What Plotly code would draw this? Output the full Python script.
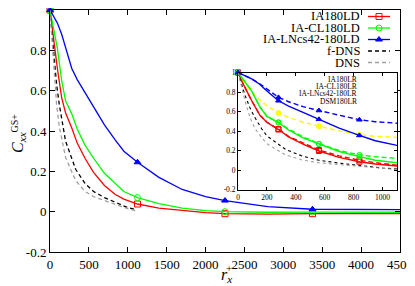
import plotly.graph_objects as go

# ---------------- data ----------------
X_LD = [0, 40, 95, 150, 200, 280, 350, 450, 560, 700, 840, 950, 1125, 1400, 1700, 2000, 2250, 2800, 3375, 4000, 4500]
IA180LD = [1, 0.87, 0.71, 0.565, 0.49, 0.415, 0.34, 0.265, 0.195, 0.13, 0.085, 0.062, 0.038, 0.018, 0.005, -0.005, -0.01, -0.012, -0.01, -0.01, -0.01]
IACL180LD = [1, 0.92, 0.81, 0.65, 0.55, 0.485, 0.41, 0.33, 0.265, 0.19, 0.137, 0.1, 0.07, 0.04, 0.018, 0.005, 0.0, -0.003, -0.002, -0.003, -0.003]
IALN180LD = [1, 0.975, 0.935, 0.88, 0.81, 0.71, 0.655, 0.59, 0.52, 0.43, 0.355, 0.30, 0.245, 0.17, 0.11, 0.075, 0.055, 0.025, 0.012, 0.01, 0.01]

X_DNS = [0, 25, 50, 85, 120, 165, 200, 265, 330, 450, 560, 700, 840, 1000, 1100]
FDNS = [1, 0.88, 0.76, 0.63, 0.53, 0.42, 0.35, 0.28, 0.21, 0.14, 0.10, 0.07, 0.045, 0.02, 0.01]
DNS = [1, 0.85, 0.70, 0.53, 0.42, 0.33, 0.27, 0.21, 0.155, 0.10, 0.075, 0.055, 0.035, 0.015, 0.005]

X_LR = [0, 40, 95, 150, 200, 280, 350, 450, 560, 700, 840, 950, 1100]
IA180LR = [1, 0.87, 0.71, 0.565, 0.49, 0.42, 0.345, 0.275, 0.205, 0.145, 0.10, 0.075, 0.05]
IACL180LR = [1, 0.92, 0.81, 0.65, 0.55, 0.49, 0.42, 0.34, 0.27, 0.20, 0.155, 0.135, 0.12]
IALN180LR = [1, 0.975, 0.935, 0.885, 0.83, 0.745, 0.70, 0.65, 0.61, 0.56, 0.515, 0.495, 0.48]
DSM180LR = [1, 0.90, 0.80, 0.72, 0.66, 0.585, 0.54, 0.49, 0.45, 0.40, 0.36, 0.345, 0.335]

MAIN_MARKS = [0, 1125, 2250, 3375]
INSET_MARKS = [0, 280, 560, 840]

MAIN_XTICKS = [0, 500, 1000, 1500, 2000, 2500, 3000, 3500, 4000, 4500]
YTICKS = [-0.2, 0, 0.2, 0.4, 0.6, 0.8, 1]
YTICK_TEXT = ["-0.2", "0", "0.2", "0.4", "0.6", "0.8", "1"]
INSET_XTICKS = [0, 200, 400, 600, 800, 1000]

MAIN_LEGEND = ["IA180LD", "IA-CL180LD", "IA-LNcs42-180LD", "f-DNS", "DNS"]
INSET_LEGEND = ["IA180LR", "IA-CL180LR", "IA-LNcs42-180LR", "DSM180LR"]

# ---------------- helpers ----------------
# The page body adds an 8px offset; sizes below compensate so the plot
# area lands at screen x 50..400, y 10..252.
OFF = 8
W, H = 415 - OFF, 286 - OFF
ML, MT = 50 - OFF, 10 - OFF
PW, PH = 350, 242
MR, MB = W - ML - PW, H - MT - PH


def PX(x):
    return (x - OFF - ML) / PW


def PY(y):
    return (MT + PH - (y - OFF)) / PH


def pick(xs, ys, marks):
    return [ys[xs.index(m)] for m in marks]


FONT = "Liberation Serif"
RED, GREEN, BLUE, YEL = "#ff0000", "#00ff00", "#0000ff", "#ffff00"
GREY = "#a0a0a0"

fig = go.Figure()


def add_curve(xs, ys, color, dash, width, sym, msize, marks, xa, ya):
    fig.add_trace(go.Scatter(x=xs, y=ys, mode="lines", xaxis=xa, yaxis=ya,
                             line=dict(color=color, dash=dash, width=width),
                             showlegend=False, hoverinfo="skip"))
    if sym is not None:
        fig.add_trace(go.Scatter(x=marks, y=pick(xs, ys, marks), mode="markers",
                                 xaxis=xa, yaxis=ya,
                                 marker=dict(symbol=sym, size=msize, color=color,
                                             line=dict(color=color, width=1)),
                                 showlegend=False, hoverinfo="skip", cliponaxis=False))


# main plot
add_curve(X_LD, IA180LD, RED, "solid", 1.3, "square-open", 6, MAIN_MARKS, "x", "y")
add_curve(X_LD, IACL180LD, GREEN, "solid", 1.3, "circle-open", 6, MAIN_MARKS, "x", "y")
add_curve(X_LD, IALN180LD, BLUE, "solid", 1.3, "triangle-up", 6, MAIN_MARKS, "x", "y")
add_curve(X_DNS, FDNS, "black", "4px,3px", 1.3, None, 0, [], "x", "y")
add_curve(X_DNS, DNS, GREY, "4px,3px", 1.3, None, 0, [], "x", "y")

# inset
add_curve(X_LR, IA180LR, RED, "5px,3px", 1.4, "square-open", 5, INSET_MARKS, "x2", "y2")
add_curve(X_LR, IACL180LR, GREEN, "5px,3px", 1.4, "circle-open", 5, INSET_MARKS, "x2", "y2")
add_curve(X_LR, IALN180LR, BLUE, "5px,3px", 1.4, "triangle-up", 5, INSET_MARKS, "x2", "y2")
add_curve(X_LR, DSM180LR, YEL, "5px,3px", 1.4, "circle", 5, INSET_MARKS, "x2", "y2")
add_curve(X_LD, IA180LD, RED, "solid", 1.4, "square-open", 5, INSET_MARKS, "x2", "y2")
add_curve(X_LD, IACL180LD, GREEN, "solid", 1.4, "circle-open", 5, INSET_MARKS, "x2", "y2")
add_curve(X_LD, IALN180LD, BLUE, "solid", 1.4, "triangle-up", 5, INSET_MARKS, "x2", "y2")
add_curve(X_DNS, FDNS, "black", "3px,3px", 1.1, None, 0, [], "x2", "y2")
add_curve(X_DNS, DNS, GREY, "3px,3px", 1.1, None, 0, [], "x2", "y2")

# legends (drawn on an overlay axis in paper units)
annotations = []
main_styles = [(RED, "solid", "square-open"), (GREEN, "solid", "circle-open"),
               (BLUE, "solid", "triangle-up"), ("black", "4px,3px", None), (GREY, "4px,3px", None)]
main_rows = [16.5, 28, 39.5, 51, 62.5]
for name, (c, d, s), r in zip(MAIN_LEGEND, main_styles, main_rows):
    fig.add_trace(go.Scatter(x=[PX(368), PX(390)], y=[PY(r), PY(r)], mode="lines",
                             xaxis="x3", yaxis="y3", line=dict(color=c, dash=d, width=1.3),
                             showlegend=False, hoverinfo="skip"))
    if s:
        fig.add_trace(go.Scatter(x=[PX(379)], y=[PY(r)], mode="markers", xaxis="x3", yaxis="y3",
                                 marker=dict(symbol=s, size=6, color=c, line=dict(color=c, width=1)),
                                 showlegend=False, hoverinfo="skip"))
    annotations.append(dict(text=name, xref="paper", yref="paper", x=PX(362), y=PY(r),
                            xanchor="right", yanchor="middle", showarrow=False,
                            font=dict(family=FONT, size=12.5, color="black")))

inset_styles = [(RED, "square-open"), (GREEN, "circle-open"), (BLUE, "triangle-up"), (YEL, "circle")]
inset_rows = [79, 86.5, 94, 101.5]
for name, (c, s), r in zip(INSET_LEGEND, inset_styles, inset_rows):
    fig.add_trace(go.Scatter(x=[PX(365), PX(387)], y=[PY(r), PY(r)], mode="lines",
                             xaxis="x3", yaxis="y3", line=dict(color=c, dash="5px,3px", width=1.4),
                             showlegend=False, hoverinfo="skip"))
    fig.add_trace(go.Scatter(x=[PX(376)], y=[PY(r)], mode="markers", xaxis="x3", yaxis="y3",
                             marker=dict(symbol=s, size=5, color=c, line=dict(color=c, width=1)),
                             showlegend=False, hoverinfo="skip"))
    annotations.append(dict(text=name, xref="paper", yref="paper", x=PX(359), y=PY(r),
                            xanchor="right", yanchor="middle", showarrow=False,
                            font=dict(family=FONT, size=7.5, color="black")))

# axis titles
annotations.append(dict(text="<i>C</i><sub><i>xx</i></sub>", xref="paper", yref="paper",
                        x=PX(18), y=PY(143), textangle=-90, showarrow=False,
                        xanchor="center", yanchor="middle",
                        font=dict(family=FONT, size=16, color="black")))
annotations.append(dict(text="GS+", xref="paper", yref="paper",
                        x=PX(13.5), y=PY(123), textangle=-90, showarrow=False,
                        xanchor="center", yanchor="middle",
                        font=dict(family=FONT, size=10, color="black")))
annotations.append(dict(text="<i>r</i><sub><i>x</i></sub>", xref="paper", yref="paper",
                        x=PX(226), y=PY(275), showarrow=False,
                        xanchor="center", yanchor="middle",
                        font=dict(family=FONT, size=16, color="black")))
annotations.append(dict(text="+", xref="paper", yref="paper",
                        x=PX(229), y=PY(268), showarrow=False,
                        xanchor="center", yanchor="middle",
                        font=dict(family=FONT, size=11, color="black")))

axis_common = dict(showgrid=False, zeroline=False, showline=True, linecolor="black",
                   linewidth=1, ticks="inside", mirror="ticks", tickcolor="black",
                   automargin=False)

fig.update_layout(
    template="none",
    width=W, height=H,
    margin=dict(l=ML, r=MR, t=MT, b=MB, pad=0, autoexpand=False),
    paper_bgcolor="white", plot_bgcolor="white",
    font=dict(family=FONT, color="black"),
    showlegend=False,
    annotations=annotations,
    xaxis=dict(domain=[0, 1], range=[0, 4500], tickvals=MAIN_XTICKS, ticklen=5,
               tickfont=dict(family=FONT, size=13, color="black"), anchor="y", **axis_common),
    yaxis=dict(domain=[0, 1], range=[-0.2, 1], tickvals=YTICKS, ticktext=YTICK_TEXT, ticklen=5,
               tickfont=dict(family=FONT, size=13, color="black"), anchor="x", **axis_common),
    xaxis2=dict(domain=[PX(238), PX(397)], range=[0, 1100], tickvals=INSET_XTICKS, ticklen=3,
                tickfont=dict(family=FONT, size=7.5, color="black"), anchor="y2", **axis_common),
    yaxis2=dict(domain=[PY(189.5), PY(72.5)], range=[-0.2, 1], tickvals=YTICKS, ticktext=YTICK_TEXT,
                ticklen=3, tickfont=dict(family=FONT, size=7.5, color="black"), anchor="x2", **axis_common),
    xaxis3=dict(domain=[0, 1], range=[0, 1], visible=False, anchor="y3", overlaying="x"),
    yaxis3=dict(domain=[0, 1], range=[0, 1], visible=False, anchor="x3", overlaying="y"),
)

fig.write_html("out.html")
